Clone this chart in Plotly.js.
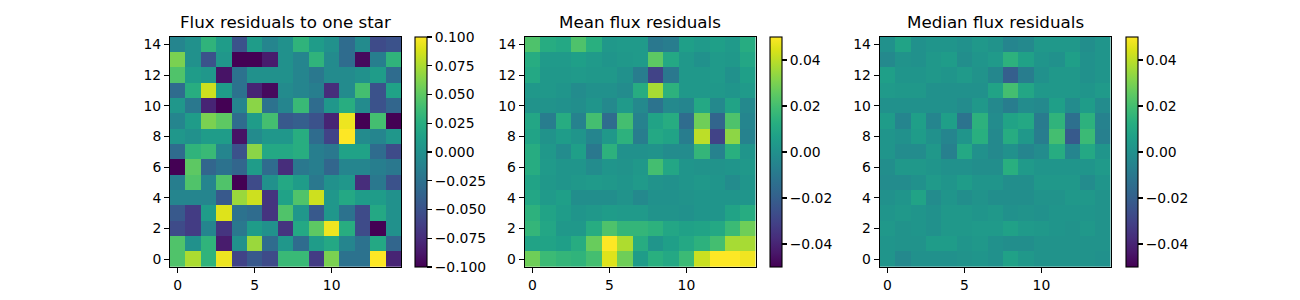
<!DOCTYPE html>
<html>
<head>
<meta charset="utf-8">
<script src="https://cdn.plot.ly/plotly-3.0.1.min.js"></script>
<style>html,body{margin:0;padding:0;background:#fff;}#chart{width:1300px;height:300px;}</style>
</head>
<body>
<div id="chart"></div>
<script>
// Grid coordinates
const cols = [0,1,2,3,4,5,6,7,8,9,10,11,12,13,14];
const rowsIdx = [0,1,2,3,4,5,6,7,8,9,10,11,12,13,14];
const titles = ["Flux residuals to one star", "Mean flux residuals", "Median flux residuals"];

// Values listed from top row (y=14) to bottom row (y=0)
const oneStarTopDown = [
  [-0.01, 0.0, 0.03, 0.01, -0.05, 0.01, -0.01, 0.0, 0.03, 0.01, 0.0, -0.03, -0.005, -0.055, -0.05],
  [0.06, 0.0, -0.05, 0.005, -0.1, -0.1, -0.085, 0.0, -0.01, 0.03, -0.005, -0.03, -0.095, -0.015, 0.03],
  [0.045, 0.01, 0.005, -0.09, -0.025, 0.0, 0.0, 0.0, -0.01, -0.02, -0.005, -0.005, 0.0, 0.01, -0.03],
  [-0.03, 0.025, 0.085, 0.01, -0.025, -0.08, -0.095, -0.005, -0.01, -0.015, -0.075, -0.005, 0.04, -0.05, 0.015],
  [0.005, -0.02, -0.08, -0.1, -0.01, 0.065, -0.025, -0.01, 0.035, -0.03, 0.005, 0.025, -0.005, -0.05, -0.035],
  [-0.01, 0.01, 0.06, 0.05, -0.03, 0.01, 0.04, -0.045, -0.04, -0.05, -0.08, 0.095, -0.1, 0.04, -0.1],
  [0.005, 0.0, 0.01, 0.01, -0.09, -0.005, 0.005, 0.005, 0.025, -0.03, -0.06, 0.1, -0.005, -0.01, 0.005],
  [-0.03, 0.03, 0.035, -0.01, -0.05, 0.065, 0.02, 0.02, 0.025, -0.015, -0.02, 0.015, 0.015, -0.03, -0.055],
  [-0.1, 0.05, -0.035, -0.025, -0.035, 0.01, -0.03, -0.075, -0.02, -0.015, -0.035, -0.01, -0.01, -0.015, -0.02],
  [-0.015, 0.045, -0.01, 0.045, -0.1, -0.055, 0.0, 0.02, 0.01, -0.02, 0.0, 0.005, -0.075, -0.02, -0.05],
  [-0.01, -0.01, -0.01, -0.045, 0.07, 0.085, -0.07, 0.015, 0.045, 0.085, 0.005, 0.02, 0.01, 0.01, 0.0],
  [-0.045, -0.065, 0.01, 0.09, -0.025, -0.03, -0.07, 0.045, 0.005, -0.045, 0.005, -0.025, -0.055, 0.02, 0.0],
  [-0.055, -0.065, -0.01, -0.07, -0.02, 0.01, 0.0, -0.07, 0.02, 0.05, 0.095, 0.025, -0.055, -0.1, 0.0],
  [0.045, 0.0, 0.03, -0.085, 0.0, 0.07, -0.03, 0.005, -0.03, 0.01, 0.02, -0.01, -0.025, 0.02, -0.035],
  [0.045, 0.075, 0.03, 0.095, -0.06, -0.045, -0.055, 0.035, 0.035, -0.065, 0.06, -0.025, -0.025, 0.1, -0.08]
];

const meanTopDown = [
  [0.022, 0.012, 0.01, 0.022, 0.013, 0.003, 0.004, 0.004, -0.01, -0.008, 0.006, 0.004, 0.006, 0.004, 0.012],
  [0.012, 0.004, 0.004, 0.006, 0.004, 0.002, 0.003, 0.004, 0.025, 0.01, 0.003, 0.0, 0.004, 0.003, 0.009],
  [0.01, 0.003, 0.003, 0.004, 0.003, 0.003, 0.0, -0.008, -0.03, -0.01, 0.003, 0.003, 0.004, 0.0, 0.006],
  [0.003, 0.003, 0.002, -0.002, 0.0, 0.0, -0.002, 0.012, 0.037, 0.014, 0.003, 0.003, 0.003, 0.002, 0.004],
  [0.001, 0.001, 0.0, -0.001, 0.002, -0.003, 0.004, -0.003, -0.012, -0.003, -0.005, 0.01, -0.003, 0.008, -0.003],
  [0.009, -0.008, 0.012, -0.006, 0.02, -0.015, 0.02, -0.006, 0.008, 0.012, -0.015, 0.028, -0.018, 0.022, -0.005],
  [0.008, 0.001, 0.005, 0.002, -0.005, 0.003, 0.014, -0.008, 0.01, 0.008, -0.008, 0.04, -0.03, 0.033, -0.006],
  [0.012, 0.003, -0.002, 0.006, -0.01, 0.014, 0.0, 0.0, 0.001, -0.002, -0.002, 0.016, -0.006, 0.013, 0.002],
  [0.012, 0.004, 0.002, 0.002, -0.002, 0.002, 0.001, 0.003, 0.02, 0.009, 0.002, 0.001, 0.001, 0.002, 0.003],
  [0.008, 0.003, 0.002, 0.003, 0.004, 0.003, 0.002, 0.004, 0.001, 0.0, 0.002, 0.003, 0.002, -0.002, 0.002],
  [0.009, 0.004, 0.006, -0.001, -0.001, -0.001, 0.001, -0.003, 0.0, 0.0, 0.001, 0.002, 0.002, 0.002, 0.002],
  [0.014, 0.008, 0.005, 0.002, 0.003, 0.005, 0.004, 0.004, 0.001, 0.001, 0.0, 0.002, 0.002, 0.008, 0.012],
  [0.016, 0.009, 0.003, 0.003, 0.012, 0.022, 0.016, 0.016, 0.014, 0.009, 0.007, 0.008, 0.01, 0.018, 0.028],
  [0.008, 0.008, 0.006, 0.012, 0.027, 0.05, 0.038, 0.012, 0.002, 0.006, 0.01, 0.014, 0.02, 0.037, 0.037],
  [0.028, 0.018, 0.016, 0.015, 0.02, 0.045, 0.028, 0.005, 0.013, 0.01, 0.018, 0.042, 0.05, 0.05, 0.048]
];

const medianTopDown = [
  [0.0, 0.008, 0.0, 0.002, 0.002, 0.0, 0.003, 0.001, -0.005, -0.003, 0.003, 0.003, 0.003, -0.001, 0.002],
  [-0.003, 0.001, 0.0, 0.003, 0.005, -0.001, 0.002, 0.004, 0.014, 0.007, 0.002, 0.0, 0.006, 0.0, 0.002],
  [0.006, 0.002, 0.002, 0.003, 0.002, 0.004, 0.001, -0.004, -0.02, -0.008, 0.0, 0.003, 0.003, 0.0, 0.002],
  [0.004, 0.003, 0.003, 0.0, 0.0, 0.0, 0.0, 0.008, 0.02, 0.009, 0.003, 0.003, 0.003, 0.002, 0.004],
  [0.0, 0.0, 0.0, 0.0, 0.0, -0.002, 0.003, -0.003, -0.008, -0.002, -0.003, 0.006, -0.002, 0.005, -0.002],
  [0.005, -0.005, 0.006, -0.005, 0.006, -0.012, 0.014, -0.002, 0.008, 0.01, -0.009, 0.015, -0.013, 0.014, -0.006],
  [0.002, 0.0, 0.005, 0.0, -0.005, 0.002, 0.013, -0.003, 0.012, 0.003, -0.008, 0.02, -0.022, 0.018, -0.007],
  [0.002, -0.002, -0.002, 0.003, -0.007, 0.01, 0.0, -0.003, 0.0, -0.005, -0.002, 0.012, -0.005, 0.01, 0.002],
  [-0.001, 0.003, 0.003, 0.002, 0.0, 0.0, -0.001, -0.001, 0.013, 0.004, 0.002, 0.002, 0.002, 0.002, 0.004],
  [-0.002, -0.002, 0.0, 0.004, 0.002, 0.005, 0.002, 0.002, -0.001, -0.001, 0.003, 0.003, 0.003, -0.002, 0.002],
  [0.0, 0.002, 0.008, -0.002, 0.002, -0.001, 0.001, -0.001, -0.001, -0.001, 0.001, 0.001, 0.003, 0.003, 0.001],
  [0.002, 0.003, 0.002, 0.0, 0.003, 0.003, 0.002, 0.003, 0.0, 0.001, 0.0, 0.002, 0.002, 0.002, 0.001],
  [0.003, 0.001, 0.002, 0.0, 0.003, 0.003, 0.004, 0.004, 0.007, 0.004, 0.003, 0.002, 0.001, 0.003, 0.001],
  [0.002, 0.001, 0.001, 0.005, 0.005, 0.002, 0.003, 0.0, -0.001, -0.001, 0.001, 0.001, 0.001, 0.001, 0.001],
  [0.002, -0.003, 0.0, 0.0, 0.0, 0.001, 0.002, 0.0, 0.007, 0.003, 0.001, 0.001, 0.001, 0.001, 0.0]
];

const cb1Ticks = [-0.1, -0.075, -0.05, -0.025, 0.0, 0.025, 0.05, 0.075, 0.1];
const cb1Labels = ["\u22120.100", "\u22120.075", "\u22120.050", "\u22120.025", "0.000", "0.025", "0.050", "0.075", "0.100"];
const cb2Ticks = [-0.04, -0.02, 0.0, 0.02, 0.04];
const cb2Labels = ["\u22120.04", "\u22120.02", "0.00", "0.02", "0.04"];
const xTicks = [0, 5, 10];
const yTicks = [0, 2, 4, 6, 8, 10, 12, 14];

const W = 1300, H = 300;
const plotLeft = [170, 524.7, 879.7];
const plotW = 231;
const plotTop = 36.7, plotBot = 267;
const cbLeft = [415, 770, 1126];
const datasets = [oneStarTopDown, meanTopDown, medianTopDown];
const zr = [[-0.1, 0.1], [-0.05, 0.05], [-0.05, 0.05]];
const font = "DejaVu Sans, sans-serif";

const yDom = [1 - plotBot / H, 1 - plotTop / H];
const traces = [];
const layout = {
  width: W, height: H,
  margin: {l: 0, r: 0, t: 0, b: 0},
  paper_bgcolor: "#fff", plot_bgcolor: "#fff",
  font: {family: font, size: 13.9, color: "#000"},
  showlegend: false,
  annotations: []
};

for (let i = 0; i < 3; i++) {
  const sfx = i === 0 ? "" : String(i + 1);
  const z = datasets[i].slice().reverse();
  const cb = {
    x: cbLeft[i] / W, xanchor: "left", xref: "paper",
    y: yDom[0], yanchor: "bottom", len: yDom[1] - yDom[0], lenmode: "fraction",
    thickness: 12, thicknessmode: "pixels",
    xpad: 0, ypad: 0,
    outlinewidth: 1.1, outlinecolor: "#000",
    ticks: "outside", ticklen: 4.9, tickwidth: 1.1, tickcolor: "#000",
    tickvals: i === 0 ? cb1Ticks : cb2Ticks,
    ticktext: i === 0 ? cb1Labels : cb2Labels,
    tickfont: {family: font, size: 13.9, color: "#000"}
  };
  traces.push({
    type: "heatmap",
    x: cols, y: rowsIdx, z: z,
    zmin: zr[i][0], zmax: zr[i][1],
    colorscale: "Viridis",
    colorbar: cb,
    xaxis: "x" + sfx, yaxis: "y" + sfx,
    hoverinfo: "skip"
  });
  const xd = [plotLeft[i] / W, (plotLeft[i] + plotW) / W];
  const axCommon = {
    showgrid: false, zeroline: false,
    showline: true, mirror: true, linecolor: "#000", linewidth: 1.1,
    ticks: "outside", ticklen: 4.9, tickwidth: 1.1, tickcolor: "#000",
    tickfont: {family: font, size: 13.9, color: "#000"},
    fixedrange: true
  };
  layout["xaxis" + sfx] = Object.assign({}, axCommon, {
    domain: xd, range: [-0.5, 14.5], anchor: "y" + sfx,
    tickmode: "array", tickvals: xTicks, ticktext: xTicks.map(String)
  });
  layout["yaxis" + sfx] = Object.assign({}, axCommon, {
    domain: yDom, range: [-0.5, 14.5], anchor: "x" + sfx,
    tickmode: "array", tickvals: yTicks, ticktext: yTicks.map(String)
  });
  layout.annotations.push({
    text: titles[i], xref: "paper", yref: "paper",
    x: (xd[0] + xd[1]) / 2, y: yDom[1], xanchor: "center", yanchor: "bottom",
    yshift: 3, showarrow: false,
    font: {family: font, size: 16.7, color: "#000"}
  });
}

Plotly.newPlot("chart", traces, layout, {displayModeBar: false, staticPlot: true});
</script>
</body>
</html>
